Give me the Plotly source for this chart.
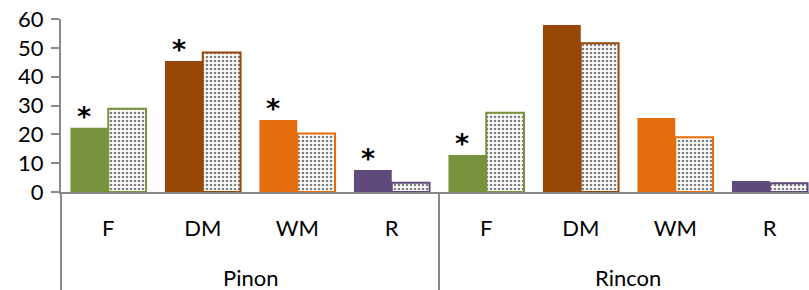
import plotly.graph_objects as go

groups = ["Pinon", "Rincon"]
categories = ["F", "DM", "WM", "R"]
colors = ["#77933C", "#974806", "#E46C0A", "#604A7B"]

solid_values = [22.3, 45.4, 25.0, 7.6, 12.8, 57.9, 25.7, 3.8]
dotted_values = [28.9, 48.4, 20.3, 3.2, 27.5, 51.6, 19.0, 3.0]
stars = ["*", "*", "*", "*", "*", "", "", ""]

y_ticks = [0, 10, 20, 30, 40, 50, 60]

n = len(groups) * len(categories)
xs = list(range(n))
tick_text = categories * len(groups)
bar_colors = colors * len(groups)

FONT = "Lato"
FS = 22
AXIS = "#898989"
BW = 0.4

fig = go.Figure()
fig.add_trace(go.Bar(
    x=xs, y=solid_values, width=BW, offset=-BW,
    marker=dict(color=bar_colors, line=dict(width=0)),
    showlegend=False, hoverinfo="skip",
))
fig.add_trace(go.Bar(
    x=xs, y=dotted_values, width=BW, offset=0.0,
    marker=dict(color="white", line=dict(width=2, color=bar_colors),
                pattern=dict(shape=".", fgcolor="black", bgcolor="white",
                             size=4, solidity=0.35, fillmode="overlay")),
    showlegend=False, hoverinfo="skip",
))

# significance asterisks above the solid bars
for xi, v, s in zip(xs, solid_values, stars):
    if s:
        fig.add_annotation(x=xi - BW / 2, y=v, xref="x", yref="y", text="<b>%s</b>" % s,
                           showarrow=False, yanchor="bottom", xanchor="center",
                           xshift=-5, yshift=-6,
                           font=dict(family="DejaVu Sans", size=27, color="black"))

W, H = 809, 290
ml, mr, mt, mb = 61, 0, 19, 98
slot = 94.5
xr = [-0.5, -0.5 + (W - ml - mr) / slot]
bottom = -mb / (H - mt - mb)

# group labels
for gi, g in enumerate(groups):
    center = gi * len(categories) + (len(categories) - 1) / 2
    fig.add_annotation(x=center, y=-85 / (H - mt - mb), xref="x", yref="paper",
                       text=g, showarrow=False, yanchor="middle",
                       font=dict(family=FONT, size=FS, color="black"))

# axis extension and group divider
fig.add_shape(type="line", xref="paper", yref="paper", x0=0, x1=0, y0=0, y1=bottom,
              line=dict(color=AXIS, width=2))
for gi in range(1, len(groups)):
    xd = gi * len(categories) - 0.5
    fig.add_shape(type="line", xref="x", yref="paper", x0=xd, x1=xd, y0=0, y1=bottom,
                  line=dict(color=AXIS, width=2))

fig.update_layout(
    width=W, height=H,
    margin=dict(l=ml, r=mr, t=mt, b=mb, autoexpand=False),
    paper_bgcolor="white", plot_bgcolor="white",
    barmode="overlay",
    font=dict(family=FONT, size=FS, color="black"),
    xaxis=dict(range=xr, tickvals=xs, ticktext=tick_text, showgrid=False,
               zeroline=False, showline=True, linecolor=AXIS, linewidth=2,
               ticks="", ticklabelstandoff=16, automargin=False,
               tickfont=dict(family=FONT, size=FS, color="black")),
    yaxis=dict(range=[0, 60], tickvals=y_ticks, showgrid=False, zeroline=False,
               showline=True, linecolor=AXIS, linewidth=2, ticks="outside",
               ticklen=8, tickcolor=AXIS, tickwidth=2, automargin=False,
               ticklabelstandoff=3,
               tickfont=dict(family=FONT, size=FS, color="black")),
)

fig.write_html("out.html", config={"displayModeBar": False},
               post_script="document.body.style.margin='0';document.body.style.overflow='hidden';")
